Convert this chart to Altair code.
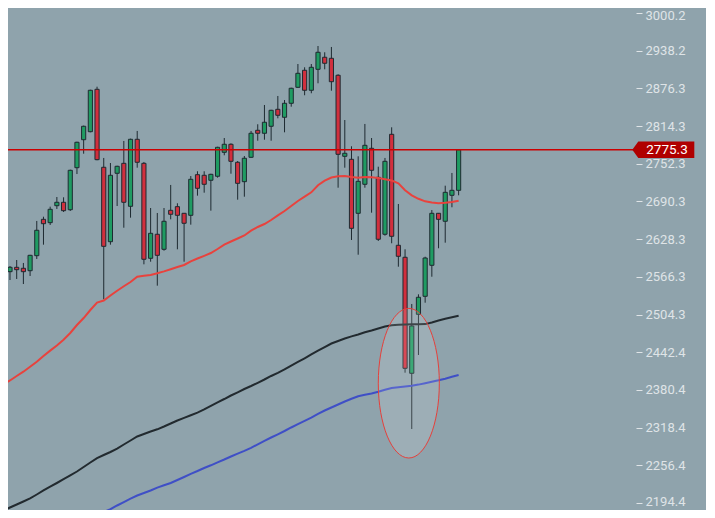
import altair as alt
import pandas as pd

# ---- candle data ----
opens = [2573.5, 2574.8, 2582.0, 2580.4, 2576.4, 2601.1, 2660.9, 2655.4, 2683.3, 2688.9,
         2676.7, 2745.8, 2791.8, 2805.0, 2874.7, 2746.5, 2624.1, 2736.6, 2753.0, 2682.3,
         2792.5, 2753.0, 2596.8, 2636.3, 2611.6, 2675.7, 2681.7, 2670.8, 2667.5, 2734.3,
         2733.3, 2725.1, 2731.7, 2771.1, 2784.3, 2754.7, 2722.8, 2762.9, 2807.3, 2802.4,
         2813.9, 2841.8, 2828.7, 2851.7, 2878.0, 2906.0, 2873.1, 2907.6, 2927.4, 2925.7,
         2897.8, 2764.5, 2759.6, 2670.8, 2718.5, 2777.7, 2730.0, 2636.3, 2800.7, 2618.2,
         2598.5, 2407.7, 2504.7, 2534.3, 2585.3, 2670.8, 2657.7, 2700.4, 2708.6]
highs = [2580.9, 2584.1, 2594.0, 2589.1, 2602.5, 2658.2, 2665.2, 2681.7, 2697.6, 2697.1,
         2742.5, 2788.5, 2815.0, 2874.0, 2879.0, 2761.8, 2753.5, 2749.0, 2789.7, 2793.5,
         2806.2, 2755.2, 2679.5, 2671.3, 2679.5, 2717.4, 2687.3, 2671.3, 2732.1, 2739.9,
         2739.9, 2735.8, 2780.2, 2794.6, 2785.9, 2756.8, 2765.0, 2806.2, 2817.2, 2848.9,
         2841.0, 2863.7, 2857.1, 2877.3, 2916.3, 2910.9, 2916.3, 2945.9, 2935.6, 2944.3,
         2899.4, 2824.2, 2781.0, 2764.5, 2817.7, 2794.6, 2747.4, 2761.8, 2812.2, 2686.1,
         2611.6, 2521.7, 2537.6, 2599.4, 2676.2, 2671.3, 2716.2, 2737.1, 2776.0]
lows = [2541.9, 2561.1, 2562.8, 2554.5, 2567.7, 2595.7, 2619.2, 2651.6, 2677.9, 2673.0,
        2674.6, 2735.4, 2768.8, 2804.0, 2758.0, 2529.4, 2619.2, 2682.8, 2647.1, 2663.6,
        2745.8, 2586.9, 2591.2, 2551.8, 2609.3, 2660.9, 2611.6, 2591.2, 2652.1, 2699.8,
        2704.7, 2675.1, 2729.4, 2766.2, 2735.9, 2693.2, 2698.1, 2762.0, 2790.2, 2791.8,
        2790.2, 2827.0, 2804.0, 2846.1, 2877.0, 2864.9, 2868.2, 2884.6, 2907.6, 2872.4,
        2712.9, 2745.8, 2626.9, 2602.7, 2712.9, 2671.8, 2625.3, 2634.0, 2621.5, 2583.0,
        2408.7, 2316.1, 2437.8, 2523.8, 2566.5, 2613.3, 2622.5, 2680.7, 2700.4]
closes = [2578.4, 2582.0, 2578.1, 2574.8, 2601.7, 2642.9, 2653.7, 2677.4, 2688.9, 2675.1,
          2741.5, 2787.6, 2813.9, 2873.1, 2759.0, 2616.5, 2733.3, 2748.1, 2688.9, 2792.5,
          2754.7, 2595.2, 2637.9, 2601.7, 2657.7, 2669.2, 2667.5, 2654.4, 2726.7, 2711.9,
          2718.5, 2734.9, 2779.3, 2784.3, 2756.3, 2720.1, 2761.3, 2802.4, 2802.4, 2820.5,
          2840.2, 2832.0, 2851.7, 2876.4, 2901.0, 2873.1, 2910.9, 2935.6, 2917.5, 2887.2,
          2767.8, 2769.5, 2646.1, 2723.4, 2782.6, 2741.5, 2628.1, 2756.3, 2633.0, 2600.1,
          2415.9, 2485.5, 2532.7, 2597.3, 2670.8, 2660.9, 2705.3, 2708.6, 2775.3]

# ---- moving averages ----
ma_red = [2389.3, 2395.9, 2403.3, 2410.3, 2418.5, 2426.8, 2436.1, 2445.0, 2453.4, 2462.9,
          2474.0, 2487.1, 2498.6, 2511.8, 2524.1, 2527.4, 2535.6, 2543.5, 2550.8, 2557.8,
          2566.5, 2568.0, 2569.3, 2572.1, 2575.3, 2578.9, 2582.5, 2585.8, 2591.9, 2596.5,
          2600.9, 2605.5, 2612.1, 2619.3, 2624.4, 2629.4, 2634.3, 2642.2, 2648.3, 2653.2,
          2659.8, 2667.4, 2674.6, 2682.8, 2691.0, 2698.1, 2705.3, 2716.9, 2724.4, 2729.7,
          2731.7, 2732.2, 2730.5, 2729.4, 2730.5, 2730.0, 2728.9, 2726.9, 2724.8, 2720.0,
          2708.8, 2700.4, 2694.7, 2690.5, 2688.6, 2687.3, 2688.1, 2689.4, 2691.5]
ma_black = [2181.6, 2187.0, 2191.9, 2196.9, 2202.1, 2208.4, 2215.0, 2221.4, 2227.3, 2233.5,
            2240.0, 2246.2, 2253.6, 2261.0, 2268.1, 2273.3, 2278.3, 2283.9, 2290.6, 2297.2,
            2303.8, 2307.9, 2312.0, 2315.6, 2320.2, 2325.1, 2330.1, 2334.5, 2338.8, 2343.1,
            2348.2, 2354.2, 2360.0, 2365.4, 2371.2, 2376.4, 2381.9, 2386.8, 2392.1, 2397.5,
            2403.3, 2408.5, 2414.1, 2420.5, 2426.3, 2432.4, 2438.8, 2444.9, 2450.9, 2456.7,
            2460.8, 2464.9, 2468.4, 2471.5, 2475.1, 2478.1, 2481.4, 2484.7, 2486.6, 2487.4,
            2487.9, 2488.3, 2488.4, 2488.6, 2491.2, 2494.5, 2497.3, 2499.8, 2502.4]
blue_start = 12
ma_blue = [2165.6, 2170.6, 2175.2, 2179.6, 2184.2, 2190.3, 2196.0, 2201.6,
           2206.7, 2210.8, 2215.0, 2219.6, 2223.5, 2227.3, 2232.2, 2237.2, 2242.4, 2247.0,
           2252.0, 2256.4, 2261.3, 2265.9, 2270.9, 2275.5, 2280.2, 2285.2, 2290.9, 2296.7,
           2302.1, 2307.4, 2312.8, 2318.6, 2324.0, 2329.3, 2334.7, 2340.8, 2346.5, 2351.5,
           2356.4, 2361.3, 2365.8, 2369.9, 2372.3, 2374.5, 2377.4, 2380.7, 2383.5, 2384.8,
           2386.0, 2387.1, 2389.1, 2391.4, 2393.9, 2396.2, 2398.8, 2401.9, 2404.9]

price_ticks = [3000.2, 2938.2, 2876.3, 2814.3, 2752.3, 2690.3, 2628.3,
               2566.3, 2504.3, 2442.4, 2380.4, 2318.4, 2256.4, 2194.4]
last_price = 2775.3
ellipse_idx = [60.56]
ellipse_price = [2391.4]

n = len(opens)
df = pd.DataFrame({"i": list(range(n)), "open": opens, "high": highs,
                   "low": lows, "close": closes})
df["dir"] = ["up" if c >= o else "down" for o, c in zip(opens, closes)]
ma_df = pd.DataFrame({"i": list(range(n)), "red": ma_red, "black": ma_black})
blue_df = pd.DataFrame({"i": list(range(blue_start, blue_start + len(ma_blue))), "v": ma_blue})
lp_df = pd.DataFrame({"p": [last_price]})
ell_df = pd.DataFrame({"i": ellipse_idx, "p": ellipse_price})

xs = alt.Scale(domain=[0.702, 94.49], nice=False, zero=False)
ys = alt.Scale(domain=[2182.9, 3008.4], nice=False, zero=False)
LABEL = "#dfe4e7"
OUTLINE = "#1e2a31"

y_axis = alt.Axis(orient="right", values=price_ticks, format=".1f", title=None,
                  domain=False, grid=False, ticks=True, tickSize=6, tickColor=LABEL,
                  tickWidth=1, labelColor=LABEL, labelFont="Roboto", labelFontSize=13,
                  labelPadding=3, labelOverlap=False,
                  labelOffset={"condition": [{"test": "datum.value > 2990", "value": 3},
                                             {"test": "datum.value < 2200", "value": -1.5}],
                               "value": 0})


def Y(field):
    return alt.Y(field, scale=ys, axis=y_axis)


wicks = alt.Chart(df).mark_rule(color=OUTLINE, strokeWidth=1, clip=True).encode(
    x=alt.X("i:Q", scale=xs, axis=None),
    y=Y("low:Q"),
    y2="high:Q",
)

bodies = alt.Chart(df).transform_calculate(
    x0="datum.i - 0.31", x1="datum.i + 0.31"
).mark_rect(stroke=OUTLINE, strokeWidth=1, clip=True).encode(
    x=alt.X("x0:Q", scale=xs, axis=None),
    x2="x1:Q",
    y=Y("open:Q"),
    y2="close:Q",
    fill=alt.Fill("dir:N", scale=alt.Scale(domain=["up", "down"],
                                           range=["#1f9b62", "#d12f3d"]), legend=None),
)

red_line = alt.Chart(ma_df).mark_line(color="#e8423d", strokeWidth=2, clip=True).encode(
    x=alt.X("i:Q", scale=xs, axis=None), y=Y("red:Q"))
black_line = alt.Chart(ma_df).mark_line(color="#222a2f", strokeWidth=2, clip=True).encode(
    x=alt.X("i:Q", scale=xs, axis=None), y=Y("black:Q"))
blue_line = alt.Chart(blue_df).mark_line(color="#3f4fc6", strokeWidth=2, clip=True).encode(
    x=alt.X("i:Q", scale=xs, axis=None), y=Y("v:Q"))

hline = alt.Chart(lp_df).mark_rule(color="#cc0000", strokeWidth=1.3).encode(
    x=alt.value(0), x2=alt.value(625), y=Y("p:Q"))

ellipse_path = ("M 0 -1 C 0.2253 -1 0.408 -0.5523 0.408 0 C 0.408 0.5523 0.2253 1 0 1 "
                "C -0.2253 1 -0.408 0.5523 -0.408 0 C -0.408 -0.5523 -0.2253 -1 0 -1 Z")
ellipse = alt.Chart(ell_df).mark_point(
    shape=ellipse_path, size=22380, filled=True, fill="#ffffff", fillOpacity=0.13,
    stroke="#e5403b", strokeWidth=1, strokeOpacity=1, opacity=1
).encode(x=alt.X("i:Q", scale=xs, axis=None), y=Y("p:Q"))

box_path = "M -31 0 L -25 -8.3 L 31 -8.3 L 31 8.3 L -25 8.3 Z"
box = alt.Chart(lp_df).mark_point(
    shape=box_path, size=4, filled=True, color="#b00000", opacity=1, strokeWidth=0
).encode(x=alt.value(655.3), y=Y("p:Q"))
box_text = alt.Chart(lp_df).mark_text(
    color="#ffffff", font="Roboto", fontSize=13.5, align="center", baseline="middle"
).encode(x=alt.value(659), y=Y("p:Q"),
         text=alt.Text("p:Q", format=".1f"))

chart = alt.layer(
    wicks, bodies, red_line, black_line, blue_line, hline, ellipse, box, box_text
).properties(
    width=628, height=502, autosize="none",
    padding={"left": 0, "top": 0, "right": 70, "bottom": 0},
    background="#8fa3ac",
).configure_view(strokeWidth=0)

chart.save("out.html", embed_options={"renderer": "svg", "actions": False})
